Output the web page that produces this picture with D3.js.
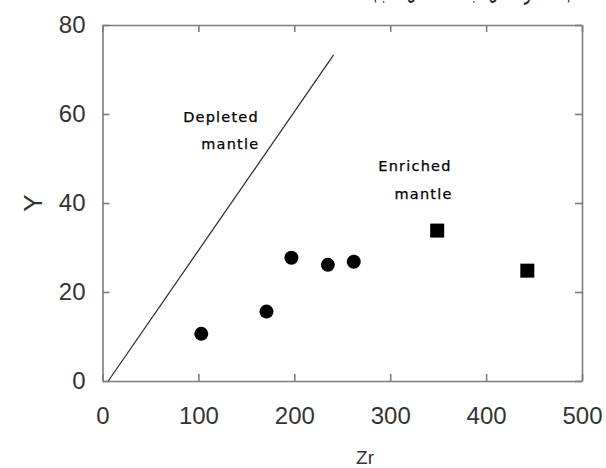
<!DOCTYPE html>
<html>
<head>
<meta charset="utf-8">
<script src="https://cdn.jsdelivr.net/npm/d3@7"></script>
<style>
  body { margin: 0; background: #fff; }
  svg { display: block; }
</style>
</head>
<body>
<div id="chart"></div>
<script>
// values
const circleZr = [103, 171, 197, 235, 262];
const circleY = [10.6, 15.6, 27.7, 26.1, 26.8];
const squareZr = [349, 443];
const squareY = [33.8, 24.8];
const lineZr = [6, 241];
const lineY = [0, 73.3];
const xTicks = [0, 100, 200, 300, 400, 500];
const yTicks = [0, 20, 40, 60, 80];

const w = 606;
const h = 468;
const padding = { top: 25, right: 24, bottom: 87, left: 102.5 };

const svg = d3.select('#chart').
  append('svg').
  attr('width', w).
  attr('height', h);

const xScale = d3.scaleLinear().
  domain([0, 500]).
  range([padding.left, w - padding.right]);

const yScale = d3.scaleLinear().
  domain([0, 80]).
  range([h - padding.bottom, padding.top]);

const fontNum = '"Liberation Sans", Arial, sans-serif';
const gray = '#7d7d7d';

// caption cut off at the very top of the picture
svg.append('text').
  attr('x', 572).
  attr('y', -1.5).
  attr('text-anchor', 'end').
  attr('textLength', 200).
  attr('lengthAdjust', 'spacingAndGlyphs').
  style('font-family', '"DejaVu Sans", sans-serif').
  style('font-size', '24px').
  style('fill', '#222').
  text('(المصدر: عمل الباحث، شكل ٣ ب)');

const xAxis = d3.axisBottom(xScale).
  tickValues(xTicks).
  tickSizeInner(-7).
  tickSizeOuter(0).
  tickPadding(26);

const yAxis = d3.axisLeft(yScale).
  tickValues(yTicks).
  tickSizeInner(-7).
  tickSizeOuter(0).
  tickPadding(17);

const xTop = d3.axisTop(xScale).
  tickValues(xTicks).
  tickSizeInner(-7).
  tickSizeOuter(0).
  tickFormat('');

const yRight = d3.axisRight(yScale).
  tickValues(yTicks).
  tickSizeInner(-7).
  tickSizeOuter(0).
  tickFormat('');

function styleAxis(g) {
  g.select('.domain').attr('stroke', gray).attr('stroke-width', 1.6);
  g.selectAll('.tick line').attr('stroke', gray).attr('stroke-width', 1.6);
  g.selectAll('.tick text').
    style('font-family', fontNum).
    style('font-size', '24px').
    style('fill', '#333');
}

svg.append('g').
  attr('transform', 'translate(0,' + yScale(0) + ')').
  call(xAxis).
  call(styleAxis);

svg.append('g').
  attr('transform', 'translate(' + xScale(0) + ',0)').
  call(yAxis).
  call(styleAxis);

svg.append('g').
  attr('transform', 'translate(0,' + yScale(80) + ')').
  call(xTop).
  call(styleAxis);

svg.append('g').
  attr('transform', 'translate(' + xScale(500) + ',0)').
  call(yRight).
  call(styleAxis);

// axis titles
svg.append('text').
  attr('x', 365).
  attr('y', 464).
  attr('text-anchor', 'middle').
  style('font-family', fontNum).
  style('font-size', '19px').
  style('fill', '#333').
  text('Zr');

svg.append('text').
  attr('transform', 'translate(42,' + yScale(40) + ') rotate(-90)').
  attr('text-anchor', 'middle').
  style('font-family', fontNum).
  style('font-size', '26px').
  style('fill', '#333').
  text('Y');

// depleted mantle line
const line = d3.line().
  x(d => xScale(d[0])).
  y(d => yScale(d[1]));

svg.append('path').
  datum(d3.zip(lineZr, lineY)).
  attr('d', line).
  attr('fill', 'none').
  attr('stroke', '#333').
  attr('stroke-width', 1.3);

// annotations
const annFont = '"DejaVu Sans", Verdana, sans-serif';
const annotations = [
  { t: 'Depleted', zr: 163, y: 58.2 },
  { t: 'mantle', zr: 163.5, y: 52.1 },
  { t: 'Enriched', zr: 364, y: 47.2 },
  { t: 'mantle', zr: 365, y: 40.9 }];

svg.append('g').
  selectAll('text').
  data(annotations).
  enter().
  append('text').
  attr('x', d => xScale(d.zr)).
  attr('y', d => yScale(d.y)).
  attr('text-anchor', 'end').
  style('font-family', annFont).
  style('font-size', '14.5px').
  style('letter-spacing', '1.2px').
  style('fill', '#000').
  style('stroke', '#000').
  style('stroke-width', 0.25).
  text(d => d.t);

// samples
svg.append('g').
  selectAll('circle').
  data(d3.zip(circleZr, circleY)).
  enter().
  append('circle').
  attr('cx', d => xScale(d[0])).
  attr('cy', d => yScale(d[1])).
  attr('r', 7).
  attr('fill', '#000');

const sq = 14;
svg.append('g').
  selectAll('rect').
  data(d3.zip(squareZr, squareY)).
  enter().
  append('rect').
  attr('x', d => xScale(d[0]) - sq / 2).
  attr('y', d => yScale(d[1]) - sq / 2).
  attr('width', sq).
  attr('height', sq).
  attr('fill', '#000');
</script>
</body>
</html>
